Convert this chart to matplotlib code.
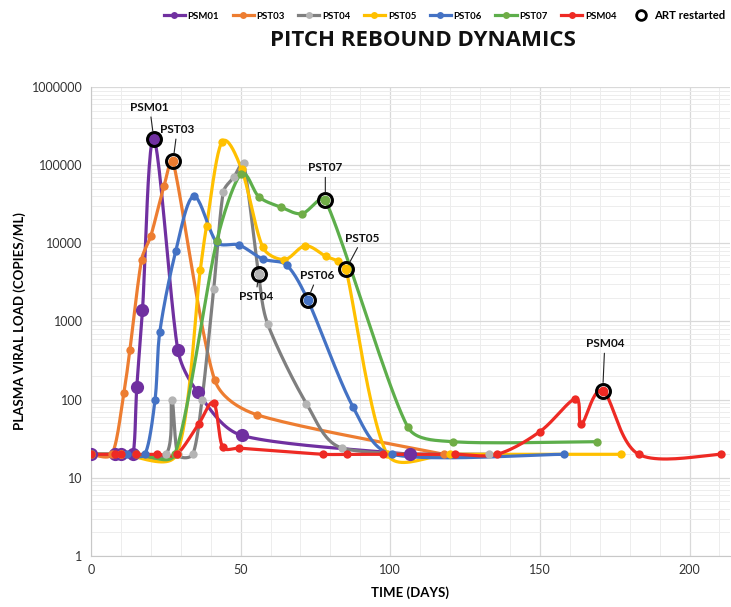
import numpy as np
import matplotlib.pyplot as plt
from matplotlib.lines import Line2D
from matplotlib.ticker import FixedLocator, NullFormatter

# data (days, copies/mL)
psm01_days = [0, 8, 10, 14, 15.3, 17.2, 21, 29, 35.7, 50.3, 106.7]
psm01_vl = [20, 20, 20, 20, 145, 1400, 215000, 437, 124, 35, 20]

pst03_days = [0, 7, 11, 13, 16.9, 20, 24.4, 27.4, 41.3, 55.5, 118]
pst03_vl = [20, 20, 123, 437, 6200, 12500, 54000, 112000, 180, 64, 20]

pst04_days = [0, 10, 25, 27, 29, 34, 37.1, 41, 44.2, 47.8, 51, 56, 59, 72, 84, 133]
pst04_vl = [20, 20, 20, 100, 20, 20, 100, 2600, 45000, 71000, 105000, 4000, 940, 89, 24, 20]

pst05_days = [0, 10, 28.6, 36.5, 38.6, 43.7, 50.3, 57.4, 64.6, 71.6, 78.5, 82.5, 85.2, 99, 120, 177]
pst05_vl = [20, 20, 20, 4500, 16600, 196000, 89000, 8900, 6200, 9300, 6800, 5900, 4650, 20, 20, 20]

pst06_days = [0, 12, 18, 21.4, 23, 28.3, 34.3, 42, 49.5, 57.4, 65.4, 72.4, 87.6, 100.5, 158]
pst06_vl = [20, 20, 20, 100, 740, 7900, 40000, 10300, 9500, 6300, 5250, 1900, 80, 20, 20]

pst07_days = [0, 15, 28, 42, 50, 56.2, 63.5, 70.5, 78.3, 105.8, 121, 169]
pst07_vl = [20, 20, 20, 10600, 76000, 39000, 29000, 24000, 35500, 45, 29, 29]

psm04_days = [0, 8, 10, 15, 22, 28.6, 36, 41, 44, 49.5, 77.6, 85.5, 97.5, 121.7,
              135.7, 150, 161.9, 163.9, 171, 183, 210.4]
psm04_vl = [20, 20, 20, 20, 20, 20, 49, 91, 24.6, 24, 20, 20, 20, 20,
            20, 39, 103, 49, 130, 20, 20]

# ART restarted points
art_names = ["PSM01", "PST03", "PST04", "PST05", "PST06", "PST07", "PSM04"]
art_days = [21, 27.4, 56, 85.2, 72.4, 78.3, 171]
art_vl = [215000, 112000, 4000, 4650, 1900, 35500, 130]

series = [
    ("PSM01", psm01_days, psm01_vl, "#7030A0", "#7030A0", 9.5),
    ("PST03", pst03_days, pst03_vl, "#ED7D31", "#ED7D31", 6),
    ("PST04", pst04_days, pst04_vl, "#7F7F7F", "#B4B4B4", 6),
    ("PST05", pst05_days, pst05_vl, "#FFC000", "#FFC000", 6),
    ("PST06", pst06_days, pst06_vl, "#4472C4", "#4472C4", 6),
    ("PST07", pst07_days, pst07_vl, "#5DAE4B", "#70AD47", 6),
    ("PSM04", psm04_days, psm04_vl, "#EE2A24", "#EE2A24", 6),
]
colors = {s[0]: s[4] for s in series}

plt.rcParams['font.family'] = ['Lato', 'DejaVu Sans']


def smooth(days, vals, n=24):
    # Excel-like smoothed line: Catmull-Rom arms, clamped to 1/3 of each segment
    u = np.asarray(days, float) * 3.0
    v = np.log10(np.asarray(vals, float)) * 78.0
    pts = np.column_stack([u, v])
    k = len(pts)
    arms = [(pts[min(i + 1, k - 1)] - pts[max(i - 1, 0)]) / 6.0 for i in range(k)]

    def clamp(a, lim):
        m = np.hypot(*a)
        return a * (lim / m) if m > lim else a

    out = [pts[0]]
    t = np.linspace(0, 1, n)[1:, None]
    for i in range(k - 1):
        p1, p2 = pts[i], pts[i + 1]
        lim = np.hypot(*(p2 - p1)) / 3.0
        b1 = p1 + clamp(arms[i], lim)
        b2 = p2 - clamp(arms[i + 1], lim)
        seg = ((1 - t) ** 3) * p1 + 3 * ((1 - t) ** 2) * t * b1 + 3 * (1 - t) * t ** 2 * b2 + t ** 3 * p2
        out.extend(seg)
    out = np.array(out)
    return out[:, 0] / 3.0, 10 ** (out[:, 1] / 78.0)


fig = plt.figure(figsize=(7.31, 6.07), dpi=100)
ax = fig.add_axes([0.1245, 0.084, 0.874, 0.7727])

for name, d, vl, lc, mc, ms in series:
    sx, sy = smooth(d, vl)
    ax.plot(sx, sy, color=lc, lw=2.3, solid_capstyle='round', zorder=3)
    ax.plot(d, vl, 'o', color=mc, ms=ms, mec='none', zorder=4)

ax.plot(art_days, art_vl, 'o', ms=10, mfc='none', mec='black', mew=2.2, zorder=5)
for name, d, vl in zip(art_names, art_days, art_vl):
    ax.plot(d, vl, 'o', ms=7, mfc=colors[name], mec='none', zorder=6)

# labels with leader lines (offsets in points)
offsets = {
    "PSM01": (-3, 19), "PST03": (3, 19), "PST04": (-2, -12), "PST05": (12, 18.5),
    "PST06": (7, 13.5), "PST07": (0, 19.5), "PSM04": (1.5, 30),
}
for name, d, vl in zip(art_names, art_days, art_vl):
    dx, dy = offsets[name]
    ax.annotate(name, xy=(d, vl), xytext=(dx, dy), textcoords='offset points',
                ha='center', va='bottom' if dy > 0 else 'top', fontsize=8.5,
                fontweight='bold', color='#111111', zorder=7,
                arrowprops=dict(arrowstyle='-', color='#222222', lw=0.8,
                                shrinkA=1, shrinkB=6))

ax.set_yscale('log')
ax.set_ylim(1, 1e6)
ax.set_xlim(0, 213.5)
ax.set_yticks([1, 10, 100, 1000, 10000, 100000, 1000000])
ax.set_yticklabels(["1", "10", "100", "1000", "10000", "100000", "1000000"])
ax.set_xticks([0, 50, 100, 150, 200])
ax.xaxis.set_minor_locator(FixedLocator(np.arange(0, 214, 10)))
ax.xaxis.set_minor_formatter(NullFormatter())
ax.yaxis.set_minor_formatter(NullFormatter())
ax.tick_params(which='both', length=0, labelsize=9, colors='#333333', pad=6)
ax.grid(which='major', color='#D9D9D9', lw=0.9)
ax.grid(which='minor', color='#EDEDED', lw=0.7)
ax.set_axisbelow(True)
for s in ['top', 'right']:
    ax.spines[s].set_visible(False)
for s in ['left', 'bottom']:
    ax.spines[s].set_color('#C8C8C8')

ax.set_xlabel("TIME (DAYS)", fontsize=9.5, fontweight='bold', labelpad=7)
ax.set_ylabel("PLASMA VIRAL LOAD (COPIES/ML)", fontsize=9.5, fontweight='bold', labelpad=4)

fig.text(0.579, 0.934, "PITCH REBOUND DYNAMICS", ha='center', va='center',
         fontsize=16, fontweight='bold', family='Open Sans', color='#111111')

handles = [Line2D([], [], color=lc, lw=2.3, marker='o', ms=5, mfc=mc, mec='none')
           for _, _, _, lc, mc, _ in series]
labels = [s[0] for s in series]
handles.append(Line2D([], [], ls='none', marker='o', ms=7, mfc='none', mec='black', mew=2))
labels.append("ART restarted")
leg = fig.legend(handles, labels, loc='center right', bbox_to_anchor=(1.0, 0.975), ncol=8,
                 frameon=False, handlelength=2.2, handletextpad=0.3, borderaxespad=0.2,
                 columnspacing=1.4, prop={'weight': 'bold', 'size': 6.9})
leg.get_texts()[-1].set_fontsize(8.2)

fig.savefig("out.png", dpi=100)
